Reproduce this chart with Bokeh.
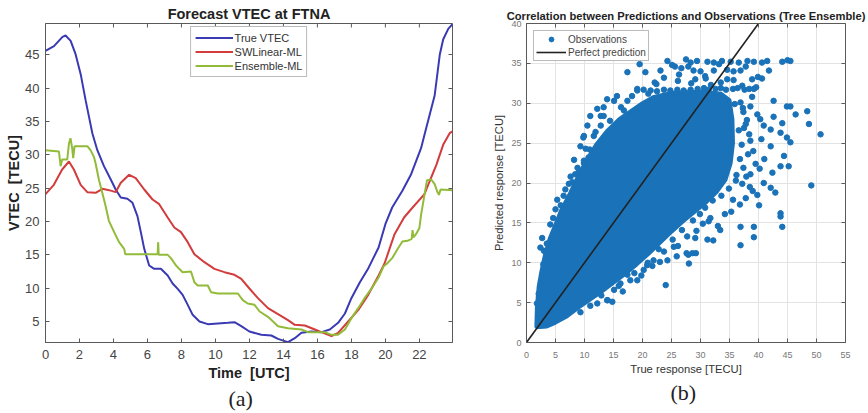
from bokeh.plotting import figure
from bokeh.models import Range1d, LinearAxis, FixedTicker, Title
from bokeh.layouts import row
from bokeh.embed import file_html
from bokeh.resources import INLINE

# ---------------- Panel (a) data ----------------
true_t = [0, 0.5, 1.0, 1.18, 1.48, 1.77, 2.07, 2.36, 2.56, 2.76, 3.05, 3.44, 3.84, 4.13, 4.43,
          4.82, 5.12, 5.41, 5.61, 5.81, 6.1, 6.4, 6.79, 7.19, 7.48, 7.78, 8.07, 8.37, 8.66,
          9.06, 9.55, 10.14, 10.73, 11.12, 11.52, 12.0, 12.7, 13.29, 13.68, 14.27, 14.67,
          15.06, 15.65, 16.24, 16.73, 17.22, 17.62, 18.0, 18.5, 19.0, 19.6, 20.0, 20.4, 21.0,
          21.5, 22.1, 22.4, 22.9, 23.2, 23.4, 23.7, 23.95]
true_v = [45.6, 46.3, 47.7, 47.9, 47.1, 45.1, 42.1, 38.2, 35.7, 33.2, 30.7, 28.3, 26.3, 24.8, 23.6,
          23.4, 22.8, 20.8, 18.4, 15.9, 13.4, 12.9, 12.9, 11.9, 10.7, 9.9, 9.0, 7.5, 6.0,
          5.0, 4.6, 4.7, 4.8, 4.9, 4.3, 3.5, 3.0, 2.9, 2.4, 1.9, 2.5,
          3.3, 3.5, 3.4, 3.8, 4.8, 6.2, 8.5, 10.9, 13.0, 16.1, 19.6, 22.1, 24.6,
          27.0, 31.0, 34.0, 38.9, 45.0, 47.3, 48.9, 49.6]

swl_t = [0, 0.49, 0.98, 1.38, 1.67, 2.07, 2.46, 2.95, 3.35, 3.74, 4.13, 4.43, 4.92, 5.31, 5.81,
         6.3, 6.69, 7.19, 7.58, 7.97, 8.37, 8.76, 9.35, 9.94, 10.53, 11.12, 11.52, 12.0, 12.5,
         13.09, 13.68, 14.27, 14.67, 15.26, 15.85, 16.34, 16.83, 17.22, 17.81, 18.4, 18.99,
         19.6, 19.95, 20.54, 21.1, 21.5, 22.3, 22.6, 23.0, 23.4, 23.8, 23.95]
swl_v = [24.1, 25.5, 27.8, 29.0, 27.8, 25.5, 24.4, 24.3, 24.9, 24.7, 24.4, 25.8, 27.0, 26.5, 24.8,
         23.3, 22.6, 20.6, 19.1, 18.4, 16.9, 15.1, 13.9, 12.9, 12.4, 12.0, 11.4, 9.95, 8.5,
         7.0, 6.1, 5.2, 4.5, 4.4, 3.8, 3.3, 2.8, 3.3, 5.0, 6.7, 9.0,
         11.9, 13.7, 18.1, 20.6, 21.8, 24.1, 26.0, 28.5, 31.5, 33.3, 33.5]

ens_t = [0, 0.79, 0.89, 0.98, 1.28, 1.38, 1.47, 1.57, 1.63, 1.71, 2.46, 2.65, 2.85, 2.95, 3.14,
         3.34, 3.54, 3.73, 4.04, 4.33, 4.63, 4.69, 6.6, 6.63, 6.66, 7.19, 7.38, 7.68, 7.87,
         8.07, 8.56, 8.76, 8.96, 9.55, 9.74, 10.14, 11.32, 11.61, 11.9, 12.3, 12.6, 13.09,
         13.39, 13.68, 14.27, 15.06, 15.45, 16.44, 16.83, 17.22, 17.62, 18.0, 18.4, 18.8,
         19.2, 19.6, 19.9, 20.1, 20.4, 20.7, 21.0, 21.3, 21.55, 21.6, 21.65, 21.8, 22.0,
         22.1, 22.3, 22.45, 22.7, 22.9, 23.05, 23.15, 23.25, 23.95]
ens_v = [30.7, 30.5, 28.3, 29.3, 29.3, 31.7, 32.5, 31.0, 29.5, 31.3, 31.3, 30.7, 29.7, 28.7, 26.3,
         24.3, 22.3, 20.1, 18.4, 16.9, 15.9, 15.1, 15.1, 16.9, 15.0, 15.0, 14.5, 13.4, 12.9,
         12.4, 12.5, 10.9, 10.4, 10.4, 9.4, 9.2, 9.2, 8.2, 7.7, 7.5, 6.5, 5.7,
         5.0, 4.3, 4.0, 3.8, 3.4, 3.4, 3.0, 3.0, 3.8, 5.5, 7.0, 8.6,
         10.0, 11.6, 13.3, 13.7, 14.5, 15.8, 17.0, 17.1, 17.4, 18.7, 17.6, 18.1, 19.0,
         21.0, 24.0, 26.2, 26.3, 25.6, 24.5, 24.0, 24.8, 24.7]

a_xticks = [0, 2, 4, 6, 8, 10, 12, 14, 16, 18, 20, 22]
a_yticks = [5, 10, 15, 20, 25, 30, 35, 40, 45]
a_xlim = [0, 23.95]
a_ylim = [1.85, 49.7]

# ---------------- Panel (b) data ----------------
# outline of the saturated (fully overlapping) part of the point cloud
core_x = [1.7, 3.5, 5.0, 7.0, 9.0, 11.0, 13.0, 15.0, 17.0, 19.0, 21.0, 23.0, 25.0, 27.0, 29.0,
          31.0, 32.8, 34.3, 35.2, 35.6, 35.5, 35.0, 33.5, 31.0, 28.0, 25.0, 22.0, 20.0, 18.0,
          16.0, 14.0, 12.0, 10.5, 9.0, 7.5, 6.0, 5.0, 4.0, 3.2, 2.6, 2.1, 1.8]
core_y = [1.9, 2.0, 2.5, 3.3, 4.4, 5.4, 6.4, 7.5, 8.6, 9.8, 11.1, 12.5, 13.9, 15.2, 16.4,
          17.6, 18.9, 20.4, 22.5, 25.0, 28.0, 30.4, 31.2, 31.4, 31.4, 31.3, 30.8, 30.0, 29.0,
          28.0, 26.6, 24.8, 23.0, 21.0, 18.7, 16.6, 14.8, 13.0, 11.0, 9.0, 7.0, 4.5]

# individual observations around the saturated cloud
obs_x = [1.8, 2.4, 3.0, 3.6, 2.4, 3.0, 2.7, 4.1, 5.0, 5.3, 7.0, 6.7, 7.9, 8.4, 9.9, 10.7, 9.8,
         12.8, 13.3, 15.1, 16.3, 17.4, 19.1, 17.4, 19.5, 20.5, 23.1, 23.7, 24.3, 25.6, 26.7, 27.9,
         19.1, 20.2, 21.4, 22.5, 23.7, 24.8, 26.0, 27.1, 28.3,
         13.9, 15.6, 12.2, 11.0, 13.3, 12.8, 10.5, 11.6, 9.9, 9.3, 10.9, 8.2, 9.9, 9.0, 7.6,
         2.1, 2.9, 3.5, 4.6, 5.9, 6.4, 7.3, 8.8, 10.2, 11.9, 14.4, 16.8, 18.2, 21.0, 22.1,
         9.3, 12.2, 13.9, 15.1, 16.2, 17.9, 19.1, 20.2, 20.8, 21.9, 23.7, 24.0, 25.4, 27.7, 24.3,
         25.9, 27.6, 27.9, 14.8, 14.0, 17.4, 11.0, 12.9, 15.9, 18.6, 20.9, 22.8, 25.2, 26.8,
         28.7, 29.9, 30.8, 32.1, 33.6, 34.9, 36.1, 19.8, 23.0, 26.1, 29.3, 31.4, 16.6, 21.7,
         28.0, 28.6, 29.2, 29.1, 31.2, 32.2, 33.4, 36.9, 36.9, 39.2, 39.2, 43.8, 43.8, 44.1, 40.1,
         36.8, 49.1, 42.1, 42.9, 40.9, 38.5, 39.0, 39.8, 30.4, 31.7, 34.2, 35.6, 37.8, 33.0,
         35.3, 37.2, 38.6, 37.9,
         28.3, 29.4, 31.2, 32.3, 33.7, 35.2, 36.6, 38.1, 39.2, 40.6, 41.5, 44.1, 45.0, 45.5,
         28.8, 30.0, 32.3, 34.6, 35.7, 36.9, 41.8, 25.1, 26.3, 27.5, 30.8, 33.2, 37.8, 39.9,
         29.1, 30.9, 34.6, 35.7, 38.9, 40.6, 22.4, 26.1, 28.4, 31.8, 33.5, 37.2, 39.6,
         29.5, 30.6, 31.4, 32.6, 33.5, 34.4, 35.6, 36.4, 37.6, 38.4, 39.2,
         36.9, 37.4, 38.6, 37.8, 38.4, 37.1, 38.2, 39.5, 37.4, 38.9, 39.8, 38.6, 37.5, 39.1,
         36.8, 38.0, 37.3, 36.2, 36.6, 35.9,
         42.6, 44.9, 45.5, 42.6, 46.4, 48.4, 48.7, 44.1, 43.8, 44.9, 45.5, 50.7, 42.1, 40.3, 40.9,
         42.1, 44.4, 43.8, 45.2, 42.4, 40.5, 41.0, 40.2]
obs_y = [4.9, 5.5, 6.8, 8.5, 11.9, 11.5, 13.1, 14.8, 16.7, 17.9, 17.3, 19.2, 20.1, 21.1, 22.8,
         23.2, 25.7, 28.4, 29.5, 30.3, 29.5, 30.3, 31.8, 33.9, 34.9, 33.9, 34.1, 33.2, 35.3, 34.6,
         34.4, 34.6,
         31.6, 31.7, 31.6, 31.5, 31.7, 31.6, 31.7, 31.6, 31.7,
         30.5, 30.9, 29.3, 28.4, 28.4, 27.2, 27.2, 25.9, 25.9, 24.6, 24.2, 22.9, 22.5, 21.3, 20.8,
         6.1, 9.8, 12.4, 15.6, 17.2, 18.4, 19.9, 21.9, 24.3, 26.4, 27.8, 29.1, 30.9, 31.2, 32.6,
         3.8, 4.9, 5.3, 6.6, 7.4, 7.8, 7.8, 9.1, 9.7, 10.3, 11.4, 7.2, 12.0, 13.3, 10.3,
         10.8, 11.2, 11.0, 5.1, 5.3, 8.5, 4.6, 5.9, 7.1, 8.7, 10.0, 11.7, 12.9, 14.1,
         15.3, 16.1, 16.9, 17.8, 18.4, 19.3, 20.3, 8.4, 10.1, 12.1, 14.0, 15.2, 6.4, 9.6,
         9.9, 11.2, 11.2, 13.1, 12.9, 12.8, 14.1, 12.2, 14.5, 14.5, 13.2, 16.2, 15.8, 14.5, 17.2,
         17.3, 19.7, 19.4, 18.8, 20.0, 19.5, 19.0, 18.5, 14.9, 15.6, 16.1, 17.9, 18.1, 14.6,
         16.4, 19.9, 21.1, 20.8,
         35.1, 35.3, 35.2, 35.1, 35.3, 35.2, 35.1, 35.3, 35.2, 35.1, 35.3, 35.2, 35.4, 35.3,
         34.1, 34.0, 34.1, 34.2, 34.0, 34.1, 34.1, 34.8, 33.6, 35.5, 33.4, 34.9, 34.6, 33.3,
         33.0, 33.1, 33.0, 32.9, 33.0, 33.1, 32.4, 32.8, 32.5, 32.3, 32.6, 32.2, 32.0,
         31.8, 31.9, 31.7, 31.8, 31.9, 31.7, 31.8, 31.9, 31.7, 31.8, 31.8,
         30.1, 28.9, 29.6, 27.4, 26.1, 24.8, 23.6, 22.4, 21.9, 30.8, 28.6, 25.3, 26.9, 24.0,
         23.0, 27.9, 29.4, 21.0, 26.6, 29.9,
         30.3, 29.6, 29.6, 28.3, 28.6, 29.0, 27.4, 27.5, 26.3, 25.7, 25.1, 26.1, 26.7, 28.0, 27.2,
         24.6, 23.4, 22.1, 22.1, 21.3, 25.5, 23.0, 21.8]

perfect_x = [0, 40]
perfect_y = [0, 40]

b_xticks = [0, 5, 10, 15, 20, 25, 30, 35, 40, 45, 50, 55]
b_yticks = [0, 5, 10, 15, 20, 25, 30, 35, 40]
b_xlim = [0, 55]
b_ylim = [0, 40]

FONT = "Liberation Sans"
AX = "#5a5a5a"
BLUE_PTS = "#1a72b8"
TICK_PX = 4

TOP = 23      # both frames share the same top/bottom borders in a row
BOTTOM = 70
HEIGHT = 412
FRAME_H = HEIGHT - TOP - BOTTOM


def style_axis(ax, ticks, size, color, standoff):
    ax.ticker = FixedTicker(ticks=ticks)
    ax.major_tick_in = TICK_PX
    ax.major_tick_out = 0
    ax.minor_tick_line_color = None
    ax.axis_line_color = AX
    ax.major_tick_line_color = AX
    ax.major_label_text_font = FONT
    ax.major_label_text_font_size = size
    ax.major_label_text_color = color
    ax.major_label_standoff = standoff


def add_right_ticks(p, yt, xmax):
    ax = LinearAxis(fixed_location=xmax)
    style_axis(ax, yt, "0px", None, 0)
    ax.minor_tick_out = 0
    ax.major_label_text_alpha = 0
    p.add_layout(ax, "right")


# ---------------- Figure (a) ----------------
pa = figure(width=475, height=HEIGHT, x_range=Range1d(*a_xlim), y_range=Range1d(*a_ylim),
            output_backend="svg", toolbar_location=None,
            min_border_left=45, min_border_right=23, min_border_top=TOP,
            min_border_bottom=BOTTOM)
pa.title.text = "Forecast VTEC at FTNA"
pa.title.align = "center"
pa.title.text_font = FONT
pa.title.text_font_size = "14.5px"
pa.title.text_font_style = "bold"
pa.title.text_color = "#222222"
pa.title.standoff = 4
pa.xgrid.visible = False
pa.ygrid.visible = False
pa.outline_line_color = AX

pa.line(true_t, true_v, line_color="#3a3ab4", line_width=2, legend_label="True VTEC")
pa.line(swl_t, swl_v, line_color="#d23c3c", line_width=2, legend_label="SWLinear-ML")
pa.line(ens_t, ens_v, line_color="#92bb3a", line_width=2, legend_label="Ensemble-ML")

# inward tick marks along the top edge of the box (at the x tick positions)
tick_len = TICK_PX * (a_ylim[1] - a_ylim[0]) / FRAME_H
pa.segment(x0=a_xticks, y0=[a_ylim[1]] * len(a_xticks), x1=a_xticks,
           y1=[a_ylim[1] - tick_len] * len(a_xticks), line_color=AX, line_width=1)

style_axis(pa.xaxis[0], a_xticks, "13px", "#444444", 7)
style_axis(pa.yaxis[0], a_yticks, "13px", "#444444", 6)
pa.xaxis[0].axis_label = "Time \u00a0[UTC]"
pa.yaxis[0].axis_label = "VTEC \u00a0[TECU]"
for ax in (pa.xaxis[0], pa.yaxis[0]):
    ax.axis_label_text_font = FONT
    ax.axis_label_text_font_size = "14.5px"
    ax.axis_label_text_font_style = "bold"
    ax.axis_label_text_color = "#222222"
pa.xaxis[0].axis_label_standoff = 3
pa.yaxis[0].axis_label_standoff = 0
add_right_ticks(pa, a_yticks, a_xlim[1])

lg = pa.legend[0]
lg.location = "top_center"
lg.margin = 3
lg.padding = 4
lg.spacing = 1
lg.label_height = 13
lg.glyph_height = 13
lg.glyph_width = 38
lg.label_standoff = 2
lg.label_text_font = FONT
lg.label_text_font_size = "11px"
lg.label_text_color = "#333333"
lg.border_line_color = "#777777"

pa.add_layout(Title(text="(a)", align="left", offset=183, standoff=0,
                    text_font="Liberation Serif", text_font_size="22px",
                    text_font_style="normal", text_color="#222222"), "below")

# ---------------- Figure (b) ----------------
pb = figure(width=392, height=HEIGHT, x_range=Range1d(*b_xlim), y_range=Range1d(*b_ylim),
            output_backend="svg", toolbar_location=None,
            min_border_left=51, min_border_right=22, min_border_top=TOP,
            min_border_bottom=BOTTOM)
pb.title.text = "Correlation between Predictions and Observations (Tree Ensemble)"
pb.title.align = "center"
pb.title.text_font = FONT
pb.title.text_font_size = "11.2px"
pb.title.text_font_style = "bold"
pb.title.text_color = "#222222"
pb.title.standoff = 4
pb.outline_line_color = AX
pb.xgrid.ticker = FixedTicker(ticks=b_xticks)
pb.ygrid.ticker = FixedTicker(ticks=b_yticks)
pb.xgrid.grid_line_color = "#e3e3e3"
pb.ygrid.grid_line_color = "#e3e3e3"

pb.patch(core_x, core_y, fill_color=BLUE_PTS, line_color=BLUE_PTS, line_width=4)
pb.scatter(obs_x, obs_y, size=5.5, fill_color=BLUE_PTS, line_color=BLUE_PTS,
           legend_label="Observations")
pb.line(perfect_x, perfect_y, line_color="#222222", line_width=1.6,
        legend_label="Perfect prediction")

style_axis(pb.xaxis[0], b_xticks, "9px", "#777777", 9)
style_axis(pb.yaxis[0], b_yticks, "9px", "#777777", 5)
pb.xaxis[0].axis_label = "True response [TECU]"
pb.yaxis[0].axis_label = "Predicted response [TECU]"
for ax in (pb.xaxis[0], pb.yaxis[0]):
    ax.axis_label_text_font = FONT
    ax.axis_label_text_font_size = "11.2px"
    ax.axis_label_text_font_style = "normal"
    ax.axis_label_text_color = "#333333"
pb.xaxis[0].axis_label_standoff = 2
pb.yaxis[0].axis_label_standoff = 3
top_b = LinearAxis(fixed_location=b_ylim[1])
style_axis(top_b, b_xticks, "0px", None, 0)
top_b.minor_tick_out = 0
top_b.major_label_text_alpha = 0
pb.add_layout(top_b, "above")
add_right_ticks(pb, b_yticks, b_xlim[1])

lb = pb.legend[0]
lb.location = "top_left"
lb.margin = 7
lb.padding = 2
lb.spacing = 1
lb.label_height = 12
lb.glyph_height = 12
lb.glyph_width = 30
lb.label_standoff = 2
lb.label_text_font = FONT
lb.label_text_font_size = "10px"
lb.label_text_color = "#444444"
lb.border_line_color = "#777777"

pb.add_layout(Title(text="(b)", align="left", offset=144, standoff=0,
                    text_font="Liberation Serif", text_font_size="22px",
                    text_font_style="normal", text_color="#222222"), "below")

layout = row(pa, pb)
open("out.html", "w").write(file_html(layout, INLINE))
